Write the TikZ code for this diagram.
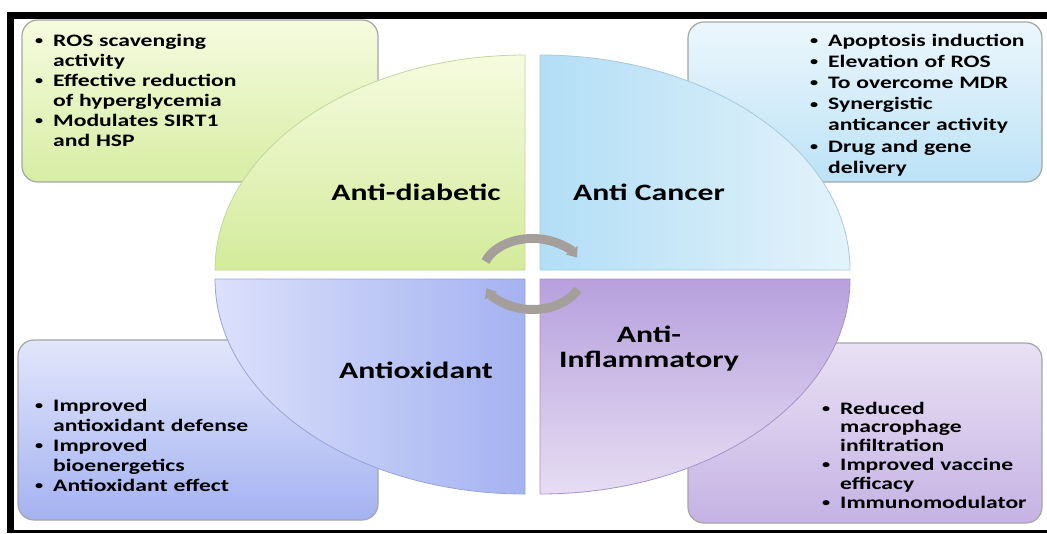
\documentclass[tikz,border=0pt]{standalone}
\usepackage{fontspec}
\setmainfont{Carlito}[FakeStretch=1.35]
\usepackage{tikz}
\usetikzlibrary{
  arrows.meta, % Triangle tips of the cycle arrows
  positioning  % relative placement
}

% colours of the four segments and their boxes
\definecolor{diabTop}{HTML}{F6FBDF}
\definecolor{diabBot}{HTML}{D3EB9A}
\definecolor{diabLine}{HTML}{C4D69C}
\definecolor{cancLeft}{HTML}{B2DEF6}
\definecolor{cancRight}{HTML}{E4F3FB}
\definecolor{cancLine}{HTML}{A8C8DC}
\definecolor{oxLeft}{HTML}{DBE0FB}
\definecolor{oxRight}{HTML}{A4B2F1}
\definecolor{oxLine}{HTML}{98A4D6}
\definecolor{inflTop}{HTML}{B7A0DD}
\definecolor{inflBot}{HTML}{E6DDF3}
\definecolor{inflLine}{HTML}{A693C6}
\definecolor{arrowgray}{HTML}{A59F9C}

% bullet line and its continuation line
\newcommand{\bdot}{\makebox[20pt][l]{\hspace{2pt}\raisebox{1.5pt}{\fontsize{12}{12}\selectfont•}}}
\newcommand{\bitem}[1]{\noindent\bdot#1\par}
\newcommand{\bcont}[1]{\noindent\hspace*{20pt}#1\par}

\tikzset{
  quadrant/.style={line width=0.8pt},
  info box/.style={rounded corners=16pt, draw=black!35, line width=1.2pt},
  bullet text/.style={
    anchor=base west, inner sep=0pt, text width=330pt, align=left,
    font=\bfseries\fontsize{17.5}{#1}\selectfont
  },
  title text/.style={
    anchor=base, inner sep=0pt, align=center,
    font=\bfseries\fontsize{23.5}{25}\selectfont
  },
  cycle arrow/.style={
    line width=9pt, color=arrowgray,
    -{Triangle[width=14pt, length=9pt]}
  }
}

\begin{document}
\begin{tikzpicture}[x=1pt, y=-1pt]
  \useasboundingbox (0,0) rectangle (1047,533);

  % 1. black frame (top, left, bottom)
  \fill[black] (7,12) rectangle (1047,19);
  \fill[black] (7,12) rectangle (14,533);
  \fill[black] (7,530) rectangle (1047,533);

  % 2. corner boxes (under the segments)
  \draw[info box, top color=diabTop, bottom color=diabBot!90!white] (22,20) rectangle (378,182);
  \draw[info box, top color=cancRight!70!white, bottom color=cancLeft!80!cancRight] (688,22) rectangle (1042,182);
  \draw[info box, top color=oxLeft!80!white, bottom color=oxRight] (18,340) rectangle (378,520);
  \draw[info box, top color=inflBot!90!white, bottom color=inflTop!70!inflBot] (688,343) rectangle (1042,523);

  % 3. the four quarter segments
  \draw[quadrant, draw=diabLine, top color=diabTop, bottom color=diabBot]
    (525,270) -- (215,270) arc[start angle=180, end angle=270, x radius=310, y radius=215] -- cycle;
  \draw[quadrant, draw=cancLine, left color=cancLeft, right color=cancRight]
    (540,270) -- (540,55) arc[start angle=270, end angle=360, x radius=310, y radius=215] -- cycle;
  \draw[quadrant, draw=oxLine, left color=oxLeft, right color=oxRight]
    (525,279) -- (215,279) arc[start angle=180, end angle=90, x radius=310, y radius=215] -- cycle;
  \draw[quadrant, draw=inflLine, top color=inflTop, bottom color=inflBot]
    (540,279) -- (850,279) arc[start angle=0, end angle=90, x radius=310, y radius=215] -- cycle;

  % 4. cycle arrows in the middle
  \draw[cycle arrow] (485.5,261.5) arc[start angle=200, end angle=333, x radius=50, y radius=35];
  \draw[cycle arrow] (577.8,289.3) arc[start angle=25, end angle=157, x radius=50, y radius=35];

  % 5. segment titles
  \node[title text] (diabTitle) at (416,200) {Anti-diabetic};
  \node[title text] (cancTitle) at (649,200) {Anti Cancer};
  \node[title text] (oxTitle) at (416,378) {Antioxidant};
  \node[title text] (inflTitle) at (649,367) {Anti-\\Inflammatory};

  % 6. box texts
  \node[bullet text=20pt] (diabList) at (33,46) {%
    \bitem{ROS scavenging}\bcont{activity}%
    \bitem{Effective reduction}\bcont{of hyperglycemia}%
    \bitem{Modulates SIRT1}\bcont{and HSP}};
  \node[bullet text=21.2pt] (cancList) at (808,46) {%
    \bitem{Apoptosis induction}%
    \bitem{Elevation of ROS}%
    \bitem{To overcome MDR}%
    \bitem{Synergistic}\bcont{anticancer activity}%
    \bitem{Drug and gene}\bcont{delivery}};
  \node[bullet text=20pt] (oxList) at (33,411) {%
    \bitem{Improved}\bcont{antioxidant defense}%
    \bitem{Improved}\bcont{bioenergetics}%
    \bitem{Antioxidant effect}};
  \node[bullet text=18.8pt] (inflList) at (820,414) {%
    \bitem{Reduced}\bcont{macrophage}\bcont{infiltration}%
    \bitem{Improved vaccine}\bcont{efficacy}%
    \bitem{Immunomodulator}};
\end{tikzpicture}
\end{document}
